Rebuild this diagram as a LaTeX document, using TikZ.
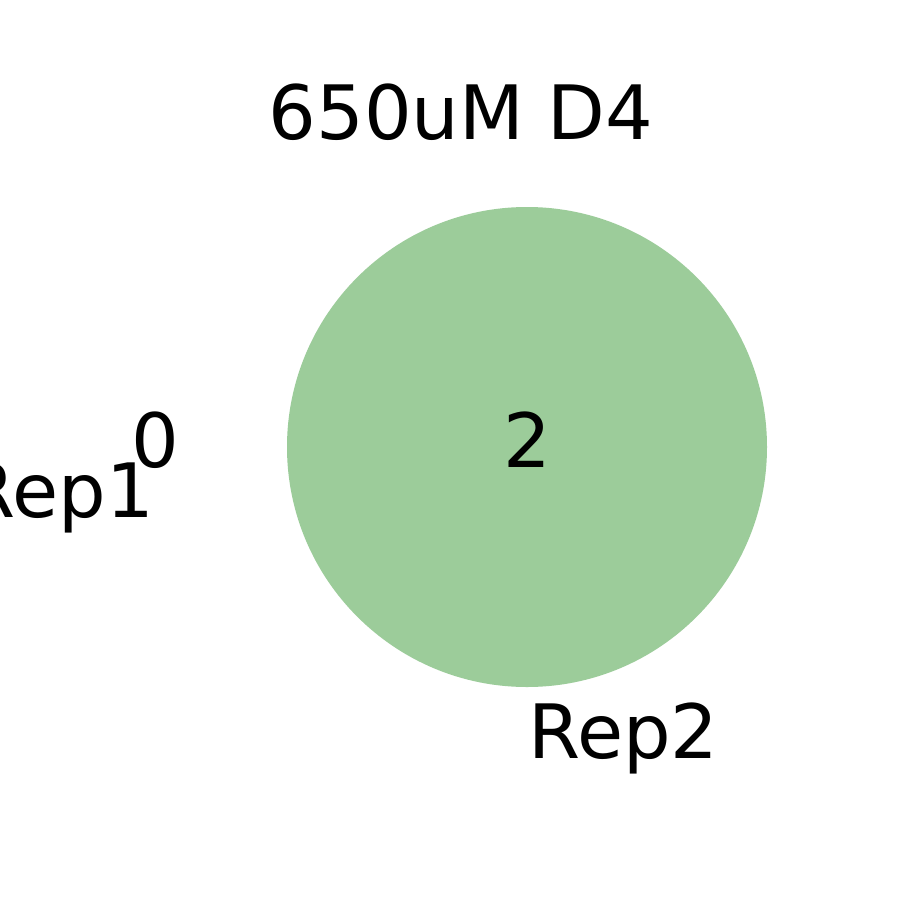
\documentclass[tikz,border=0pt]{standalone}
\usepackage{fontspec}
\setmainfont{DejaVu Sans}
\definecolor{vgreen}{RGB}{156,204,154}
\begin{document}
\begin{tikzpicture}[x=1pt,y=-1pt,
  lbl/.style={inner sep=0pt,font=\fontsize{75}{90}\selectfont}]
\useasboundingbox (0,0) rectangle (900,900);
\fill[white] (0,0) rectangle (900,900);
\fill[vgreen] (527,447) circle[radius=240];
\node[lbl,anchor=base] (title) at (461,139) {650uM D4};
\node[lbl,anchor=base] (both) at (527,467) {2};
\node[lbl,anchor=base] (only1) at (155,467) {0};
\node[lbl,anchor=base east] (rep1) at (154,517) {Rep1};
\node[lbl,anchor=base west] (rep2) at (528,758) {Rep2};
\end{tikzpicture}
\end{document}
